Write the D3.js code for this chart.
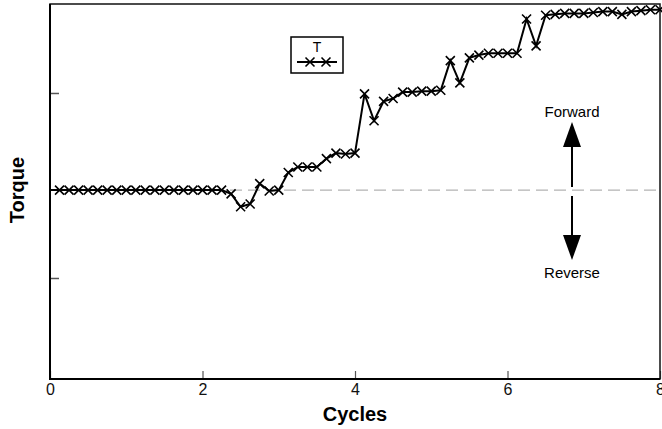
<!DOCTYPE html>
<html>
<head>
<meta charset="utf-8">
<script src="https://cdn.jsdelivr.net/npm/d3@7"></script>
<style>
  body { margin: 0; background: #fff; }
  svg { font-family: "Liberation Sans", Arial, sans-serif; }
</style>
</head>
<body>
<div id="chart"></div>
<script>
var cycles = d3.range(0, 65).map(function(i) { return i / 8; });
var torque = [
  -0.05, -0.05, -0.05, -0.05, -0.05, -0.05, -0.05, -0.05,
  -0.05, -0.05, -0.05, -0.05, -0.05, -0.05, -0.05, -0.05,
  -0.05, -0.05, -0.05, -0.09, -0.23, -0.20, 0.02, -0.06,
  -0.05, 0.14, 0.20, 0.20, 0.20, 0.29, 0.35, 0.34,
  0.35, 0.99, 0.70, 0.91, 0.94, 1.01, 1.01, 1.02,
  1.02, 1.03, 1.35, 1.11, 1.38, 1.41, 1.43, 1.43,
  1.43, 1.43, 1.80, 1.51, 1.84, 1.85, 1.86, 1.86,
  1.86, 1.87, 1.88, 1.88, 1.85, 1.88, 1.89, 1.90, 1.90
];
var xTicks = [0, 2, 4, 6, 8];
var yTicks = [-1, 1];
var refLevel = -0.05;
var seriesName = "T";

var width = 662, height = 429;
var mLeft = 50, mRight = 660, mTop = 4, mBottom = 379;

var svg = d3.select("#chart").append("svg")
    .attr("width", width)
    .attr("height", height);

var x = d3.scaleLinear().domain([0, 8]).range([mLeft, mRight]);
var y = d3.scaleLinear().domain([-2.092, 1.962]).range([mBottom, mTop]);

// dashed zero line
svg.append("line")
    .attr("x1", mLeft).attr("x2", mRight)
    .attr("y1", y(refLevel)).attr("y2", y(refLevel))
    .attr("stroke", "#b3b3b3")
    .attr("stroke-width", 1.2)
    .attr("stroke-dasharray", "12,6");

// axes, ticks pointing inward
var xAxis = svg.append("g")
    .attr("transform", "translate(0," + mBottom + ")")
    .call(d3.axisBottom(x).tickValues(xTicks).tickSizeInner(-8).tickSizeOuter(0).tickPadding(5));
xAxis.select(".domain").remove();
xAxis.selectAll("line").attr("stroke", "#555").attr("stroke-width", 1.2);
xAxis.selectAll("text")
    .style("font-size", "16px")
    .style("font-family", "'Liberation Sans', Arial, sans-serif")
    .attr("fill", "#111");

var yAxis = svg.append("g")
    .attr("transform", "translate(" + mLeft + ",0)")
    .call(d3.axisLeft(y).tickValues(yTicks).tickSizeInner(-9).tickSizeOuter(0).tickFormat(""));
yAxis.select(".domain").remove();
yAxis.selectAll("line").attr("stroke", "#555").attr("stroke-width", 1.5);

// frame
svg.append("rect")
    .attr("x", mLeft).attr("y", mTop)
    .attr("width", mRight - mLeft).attr("height", mBottom - mTop)
    .attr("fill", "none")
    .attr("stroke", "#111")
    .attr("stroke-width", 1.5);
svg.append("path")
    .attr("d", "M" + mLeft + "," + mTop + "V" + mBottom + "H" + mRight)
    .attr("fill", "none")
    .attr("stroke", "#000")
    .attr("stroke-width", 2);

// data line
var pts = cycles.map(function(c, i) { return [c, torque[i]]; });
var line = d3.line()
    .x(function(d) { return x(d[0]); })
    .y(function(d) { return y(d[1]); });

svg.append("path")
    .datum(pts)
    .attr("d", line)
    .attr("fill", "none")
    .attr("stroke", "#000")
    .attr("stroke-width", 2);

function cross(sel, s) {
  sel.append("path")
    .attr("d", "M" + (-s) + "," + (-s) + "L" + s + "," + s + "M" + (-s) + "," + s + "L" + s + "," + (-s))
    .attr("fill", "none")
    .attr("stroke", "#000")
    .attr("stroke-width", 1.6);
}

svg.selectAll("g.mark")
    .data(pts.slice(1))
    .enter()
    .append("g")
      .attr("class", "mark")
      .attr("transform", function(d) { return "translate(" + x(d[0]) + "," + y(d[1]) + ")"; })
      .each(function() { cross(d3.select(this), 4.5); });

// legend
var lg = svg.append("g").attr("transform", "translate(291,37)");
lg.append("rect")
    .attr("width", 52).attr("height", 36)
    .attr("fill", "#fff")
    .attr("stroke", "#000")
    .attr("stroke-width", 1.5);
lg.append("text")
    .attr("x", 26).attr("y", 15)
    .attr("text-anchor", "middle")
    .attr("font-size", 14)
    .text(seriesName);
lg.append("line")
    .attr("x1", 6).attr("x2", 46).attr("y1", 25).attr("y2", 25)
    .attr("stroke", "#000").attr("stroke-width", 2);
[19, 35].forEach(function(px) {
  cross(lg.append("g").attr("transform", "translate(" + px + ",25)"), 4.5);
});

// direction arrows
var ax = 572;
svg.append("line")
    .attr("x1", ax).attr("x2", ax).attr("y1", 187).attr("y2", 146)
    .attr("stroke", "#000").attr("stroke-width", 2);
svg.append("path")
    .attr("d", "M" + (ax - 9) + ",147L" + ax + ",122L" + (ax + 9) + ",147Z")
    .attr("fill", "#000");
svg.append("line")
    .attr("x1", ax).attr("x2", ax).attr("y1", 196).attr("y2", 236)
    .attr("stroke", "#000").attr("stroke-width", 2);
svg.append("path")
    .attr("d", "M" + (ax - 9) + ",235L" + ax + ",260L" + (ax + 9) + ",235Z")
    .attr("fill", "#000");
svg.append("text")
    .attr("x", ax).attr("y", 117)
    .attr("text-anchor", "middle")
    .attr("font-size", 15)
    .text("Forward");
svg.append("text")
    .attr("x", ax).attr("y", 278)
    .attr("text-anchor", "middle")
    .attr("font-size", 15)
    .text("Reverse");

// axis titles
svg.append("text")
    .attr("x", (mLeft + mRight) / 2).attr("y", 421)
    .attr("text-anchor", "middle")
    .attr("font-size", 20)
    .attr("font-weight", "bold")
    .text("Cycles");
svg.append("text")
    .attr("transform", "translate(24,190) rotate(-90)")
    .attr("text-anchor", "middle")
    .attr("font-size", 20)
    .attr("font-weight", "bold")
    .text("Torque");
</script>
</body>
</html>
